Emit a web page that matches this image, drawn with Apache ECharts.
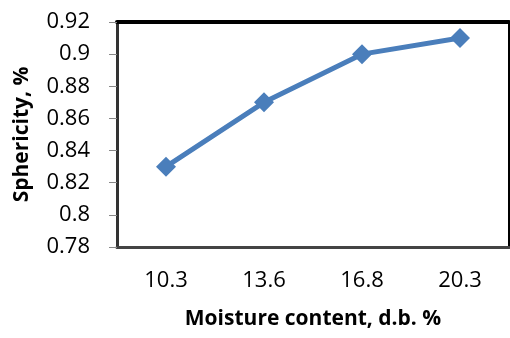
<!DOCTYPE html>
<html>
<head>
<meta charset="utf-8">
<script src="https://cdn.jsdelivr.net/npm/echarts@6/dist/echarts.min.js"></script>
<style>
html,body{margin:0;padding:0;background:#fff;}
#chart{width:510px;height:338px;}
</style>
</head>
<body>
<div id="chart"></div>
<script>
const categories = ['10.3', '13.6', '16.8', '20.3'];
const sphericity = [0.83, 0.87, 0.90, 0.91];
const yMin = 0.78, yMax = 0.92, yStep = 0.02;
const xTitle = 'Moisture content, d.b. %';
const yTitle = 'Sphericity, %';

const chart = echarts.init(document.getElementById('chart'), null, {renderer: 'canvas'});
const FONT = 'Open Sans';
chart.setOption({
  animation: false,
  backgroundColor: '#fff',
  grid: {left: 117, top: 22, right: 1, bottom: 91, show: true, borderColor: '#000', borderWidth: 2},
  xAxis: [{
    type: 'category',
    data: categories,
    boundaryGap: true,
    axisLine: {show: true, lineStyle: {color: '#444', width: 3}},
    axisTick: {show: false},
    axisLabel: {color: '#000', fontFamily: FONT, fontSize: 22, margin: 23},
    name: xTitle,
    nameLocation: 'middle',
    nameGap: 62,
    nameTextStyle: {color: '#000', fontFamily: FONT, fontSize: 21, fontWeight: 'bold'}
  }, {
    type: 'category',
    data: categories,
    position: 'top',
    axisLine: {show: true, lineStyle: {color: '#000', width: 4}},
    axisTick: {show: false},
    axisLabel: {show: false}
  }],
  yAxis: {
    type: 'value',
    min: yMin,
    max: yMax,
    interval: yStep,
    axisLine: {show: true, lineStyle: {color: '#333', width: 3}},
    axisTick: {show: true, length: 8, lineStyle: {color: '#888', width: 1}},
    splitLine: {show: false},
    axisLabel: {color: '#000', fontFamily: FONT, fontSize: 22, margin: 27},
    name: yTitle,
    nameLocation: 'middle',
    nameGap: 84,
    nameRotate: 90,
    nameTextStyle: {color: '#000', fontFamily: FONT, fontSize: 21, fontWeight: 'bold'}
  },
  series: [{
    type: 'line',
    data: sphericity,
    xAxisIndex: 0,
    symbol: 'diamond',
    symbolSize: 20,
    lineStyle: {color: '#4a7ebb', width: 5},
    itemStyle: {color: '#4a7ebb'}
  }]
});
</script>
</body>
</html>
